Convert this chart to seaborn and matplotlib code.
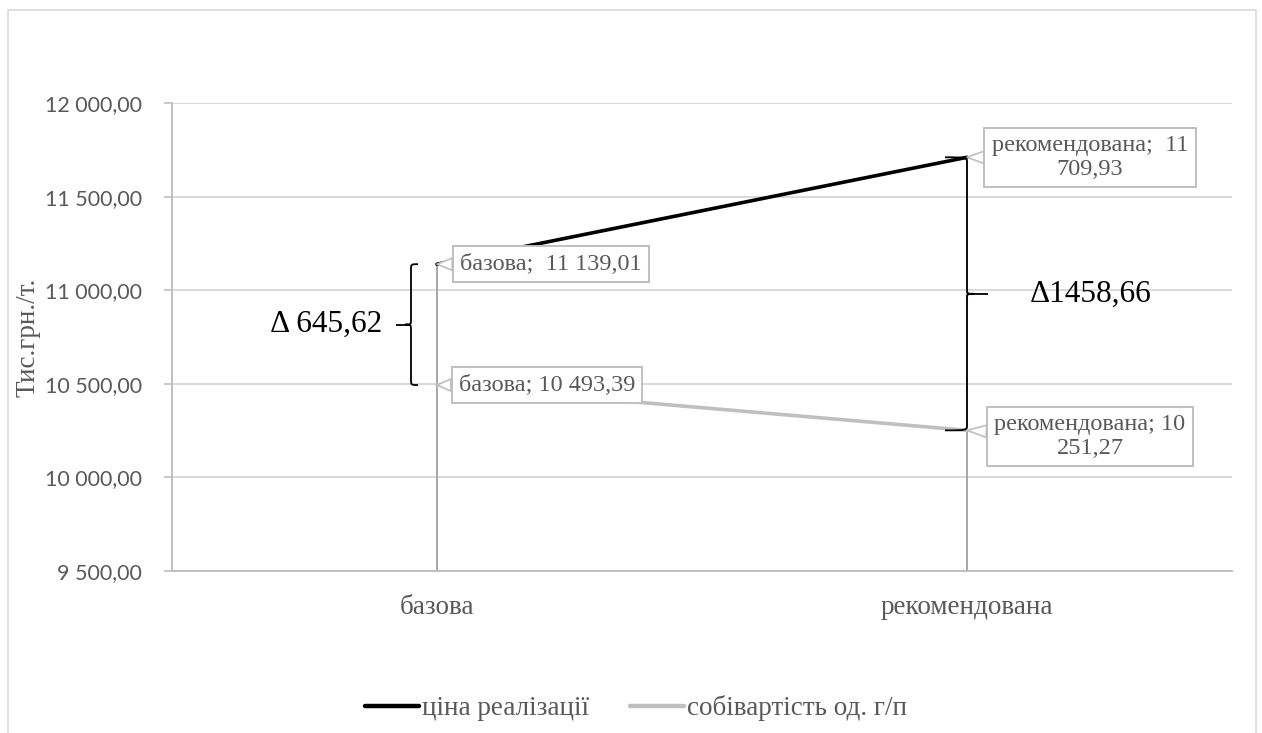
import matplotlib
matplotlib.use("Agg")
import matplotlib.pyplot as plt
from matplotlib.path import Path
from matplotlib.patches import PathPatch, Rectangle
from matplotlib.lines import Line2D
import seaborn as sns
import pandas as pd

# ---- data ----
categories = ["базова", "рекомендована"]
price = [11139.01, 11709.93]          # ціна реалізації
cost = [10493.39, 10251.27]           # собівартість од. г/п
series_names = ["ціна реалізації", "собівартість од. г/п"]
yticks = [9500, 10000, 10500, 11000, 11500, 12000]
delta_base = "Δ 645,62"
delta_rec = "Δ1458,66"

SERIF = ["Liberation Serif", "DejaVu Serif"]
SANS = ["Lato", "DejaVu Sans"]
TXT = "#595959"
GRID = "#d9d9d9"
AXC = "#bfbfbf"

sns.set_theme(style="white")
plt.rcParams["font.family"] = SERIF

df = pd.DataFrame({
    "cat": categories * 2,
    "val": price + cost,
    "series": [series_names[0]] * 2 + [series_names[1]] * 2,
})

fig = plt.figure(figsize=(12.62, 7.33), dpi=100)
ax = fig.add_axes([172 / 1262, 1 - 571 / 733, (1232 - 172) / 1262, (571 - 103) / 733])

# outer chart border
fig.patches.append(Rectangle((8 / 1262, -0.05), (1256 - 8) / 1262, 1 - 10 / 733 + 0.05,
                             transform=fig.transFigure, fill=False, ec="#d9d9d9", lw=1.2))

sns.lineplot(data=df, x="cat", y="val", hue="series",
             palette=["black", "#bfbfbf"], linewidth=2.6, ax=ax, legend=False,
             zorder=3, sort=False)

ax.set_xlim(-0.5, 1.5)
ax.set_ylim(yticks[0], yticks[-1])

# drop lines from the highest value down to the category axis
hi = [max(p, c) for p, c in zip(price, cost)]
ax.vlines(range(len(categories)), yticks[0], hi, color="#a6a6a6", lw=1.4, zorder=2)


def fmt(v):
    return f"{v:,.2f}".replace(",", " ").replace(".", ",")


# grid and axes
ax.set_yticks(yticks)
ax.set_yticklabels([fmt(v) for v in yticks], family=SANS, fontsize=15.5, color=TXT)
ax.yaxis.grid(True, color=GRID, lw=1.4)
ax.set_axisbelow(True)
for s in ["top", "right"]:
    ax.spines[s].set_visible(False)
for s in ["left", "bottom"]:
    ax.spines[s].set_color(AXC)
    ax.spines[s].set_linewidth(1.4)
ax.tick_params(axis="y", which="major", left=True, length=6, width=1.2, color=AXC, pad=15.5)
ax.tick_params(axis="x", length=0, pad=17)
ax.set_xticks(range(len(categories)))
ax.set_xticklabels(categories, fontsize=19.5, color=TXT)
ax.set_xlabel("")
ax.set_ylabel("Тис.грн./т.", fontsize=19.5, color=TXT, labelpad=3)

# data labels with callouts
labels = [
    (0, price[0], "базова;  " + fmt(price[0]), (114, 0)),
    (0, cost[0], "базова; " + fmt(cost[0]), (110, 0)),
    (1, price[1], "рекомендована;  11\n" + fmt(price[1])[3:], (123, 0)),
    (1, cost[1], "рекомендована; 10\n" + fmt(cost[1])[3:], (123, -6)),
]
for x, y, t, off in labels:
    ax.annotate(t, xy=(x, y), xytext=off, textcoords="offset pixels",
                ha="center", va="center", fontsize=17.5, color=TXT, zorder=5,
                linespacing=1.15,
                bbox=dict(boxstyle="square,pad=0.3", fc="white", ec=AXC, lw=1.4),
                arrowprops=dict(arrowstyle="wedge,tail_width=0.5", fc="white", ec=AXC,
                                lw=1.2, shrinkA=0, shrinkB=0))


def brace(ax, x, y_top, y_bot, tip, end, r, side=-1, dash=0.0):
    """Curly brace in data coordinates; side=-1 opens to the right '{', side=1 is '}'."""
    ym = (y_top + y_bot) / 2
    xt = x + side * tip
    xe = x - side * end
    verts = [
        (xe, y_top), (x, y_top), (x, y_top), (x, y_top - r),
        (x, ym + r),
        (x, ym), (x, ym), (xt, ym),
        (x, ym), (x, ym), (x, ym - r),
        (x, y_bot + r),
        (x, y_bot), (x, y_bot), (xe, y_bot),
    ]
    codes = [Path.MOVETO, Path.CURVE4, Path.CURVE4, Path.CURVE4,
             Path.LINETO,
             Path.CURVE4, Path.CURVE4, Path.CURVE4,
             Path.CURVE4, Path.CURVE4, Path.CURVE4,
             Path.LINETO,
             Path.CURVE4, Path.CURVE4, Path.CURVE4]
    ax.add_patch(PathPatch(Path(verts, codes), fill=False, ec="black", lw=1.3, zorder=4,
                           clip_on=False))
    if dash:
        ax.plot([xt, xt + side * dash], [ym, ym], color="black", lw=1.3, zorder=4,
                solid_capstyle="butt")
    return xt + side * dash, ym


px = 1 / 530  # one pixel in category units

# brace for the base variant
tx, ty = brace(ax, 0 - 26 * px, price[0], cost[0], tip=6 * px, end=7 * px, r=30,
               side=-1, dash=9 * px)
ax.text(tx - 14 * px, ty, delta_base, ha="right", va="center", fontsize=22.5, color="black")

# brace for the recommended variant
tx, ty = brace(ax, 1.0, price[1], cost[1], tip=7 * px, end=22 * px, r=30,
               side=1, dash=14 * px)
ax.text(tx + 42 * px, ty, delta_rec, ha="left", va="center", fontsize=22.5, color="black")

# legend
handles = [Line2D([], [], color="black", lw=3.2), Line2D([], [], color="#bfbfbf", lw=3.2)]
fig.legend(handles, series_names, loc="center", bbox_to_anchor=(0.504, 0.034),
           ncol=2, frameon=False, fontsize=19.5, handlelength=2.0, handletextpad=0.1,
           columnspacing=1.5, labelcolor=TXT)

fig.savefig("out.png", dpi=100)
